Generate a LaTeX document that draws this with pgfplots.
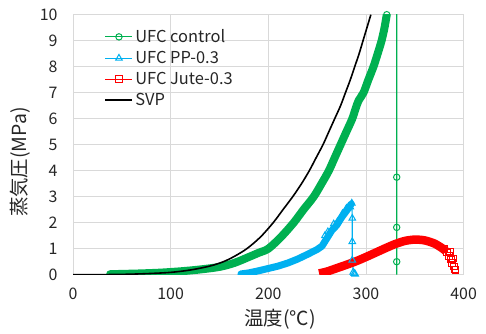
\documentclass[border=0pt]{standalone}
\usepackage{fontspec}
\setmainfont{Noto Sans CJK JP}
\usepackage{pgfplots}
\pgfplotsset{compat=1.18}
\usetikzlibrary{calc}
\definecolor{cgreen}{RGB}{0,176,80}
\definecolor{cblue}{RGB}{0,176,240}
\definecolor{cred}{RGB}{255,0,0}
\definecolor{cgrid}{RGB}{217,217,217}
\begin{document}
\begin{tikzpicture}
\begin{axis}[name=ax, scale only axis, width=390.6bp, height=260bp,
  xmin=0, xmax=400, ymin=0, ymax=10,
  xtick={0,100,...,400}, ytick={0,1,...,10},
  grid=major, major grid style={cgrid, line width=0.8bp},
  axis line style={cgrid, line width=0.8bp}, major tick length=0pt,
  tick label style={font=\fontsize{16}{17}\selectfont, text=black!85},
  /pgf/number format/assume math mode=true,
  xticklabel style={yshift=-10bp}, yticklabel style={xshift=-12bp},
  xlabel={温度(℃)}, ylabel={蒸気圧(MPa)},
  label style={font=\fontsize{19.5}{20}\selectfont, text=black!85},
  xlabel style={at={(axis description cs:0.53,-0.173)}, anchor=center},
  ylabel style={at={(axis description cs:-0.135,0.433)}, anchor=center},
  legend style={at={(0.078,0.955)}, anchor=north west, draw=none, fill=none,
    font=\fontsize{16.5}{18}\selectfont, row sep=3.2bp, inner sep=1bp,
    text=black!85},
  legend cell align=left,
  legend image code/.code={\draw[mark repeat=2,mark phase=2] plot coordinates {(0bp,0bp) (13.5bp,0bp) (27bp,0bp)};},
]
\addlegendimage{cgreen, line width=1bp, mark=o, mark size=3.2bp, mark options={line width=1bp}}
\addlegendentry{UFC control}
\addlegendimage{cblue, line width=1bp, mark=triangle, mark size=3.8bp, mark options={line width=1bp}}
\addlegendentry{UFC PP-0.3}
\addlegendimage{cred, line width=1bp, mark=square, mark size=3.2bp, mark options={line width=1bp}}
\addlegendentry{UFC Jute-0.3}
\addlegendimage{black, line width=1.6bp}
\addlegendentry{SVP}

% UFC control (green) dense band
\addplot[forget plot, cgreen, line width=8bp, line cap=round, line join=round, smooth] coordinates {
(38,0.02)(50,0.03)(70,0.05)(90,0.08)(110,0.13)(130,0.2)(150,0.3)(165,0.45)(180,0.68)(190,0.84)(200,1.0)(213,1.45)(226,2.0)(236,2.5)(246.5,3.0)(254.5,3.5)(262,4.0)(268,4.5)(274,5.0)(280,5.5)(286,6.0)(289.5,6.4)(292.5,6.7)(297.5,7.0)(302.5,7.5)(307.7,8.0)(312,8.5)(316,9.0)(319,9.5)(321.3,10.0)
};
\addplot[forget plot, cgreen, line width=1.1bp] coordinates {
(321.3,10.0)(331.5,12)(331.5,0)
};
\addplot[forget plot, cgreen, only marks, mark=o, mark size=3.2bp, mark options={line width=1bp}] coordinates {
(321.3,10.0)(331.5,3.75)(331.5,1.82)(331.5,0.5)
};
% UFC PP-0.3 (blue)
\addplot[forget plot, cblue, line width=7bp, line cap=round, line join=round] coordinates {
(172,0.03)(180,0.07)(190,0.15)(200,0.24)(210,0.33)(220,0.45)(230,0.6)(240,0.78)(250,0.97)(255,1.1)(260,1.4)(265,1.7)(270,1.9)(275,2.2)(280,2.45)(285,2.72)
};
\addplot[forget plot, cblue, line width=1.1bp, mark=triangle, mark size=3.8bp, mark options={line width=1bp}] coordinates {
(285.5,2.75)(286,2.17)(286,1.27)(286,0.56)(287,0.1)
};
\addplot[forget plot, cblue, only marks, mark=triangle, mark size=3.8bp, mark options={line width=1bp}] coordinates {
(258,1.5)(261,1.65)(267,1.95)(271,2.05)(276,2.35)(280,2.55)(284,2.6)(288,0.05)(289,0.02)
};
% UFC Jute-0.3 (red)
\addplot[forget plot, cred, line width=8.5bp, line join=round, smooth] coordinates {
(252,0.05)(260,0.12)(270,0.25)(280,0.38)(290,0.52)(300,0.68)(310,0.85)(320,1.02)(330,1.18)(340,1.3)(350,1.35)(360,1.32)(370,1.2)(378,1.02)(382,0.9)
};
\addplot[forget plot, cred, only marks, mark=square, mark size=3.2bp, mark options={line width=1bp}] coordinates {
(380,1.0)(383,0.85)(385,0.72)(386,0.9)(387,0.58)(388,0.45)(389,0.62)(390,0.32)(391,0.2)(392,0.18)
};
% SVP (black)
\addplot[forget plot, black, line width=1.6bp, smooth] coordinates {
(0,0.0)(30,0.004)(50,0.012)(75,0.04)(100,0.09)(120,0.18)(140,0.33)(154,0.5)(165,0.7)(178,1.0)(192,1.45)(205,2.0)(215,2.5)(225,3.0)(234,3.5)(242,4.0)(249,4.5)(256,5.0)(262,5.5)(268,6.0)(274,6.5)(279,7.0)(284,7.5)(288.5,8.0)(293,8.5)(297,9.0)(301,9.5)(305,10.0)
};
\end{axis}
\path ($(ax.south west)+(-73bp,-56.3bp)$) rectangle ($(ax.north east)+(22.4bp,14.7bp)$);
\end{tikzpicture}
\end{document}
